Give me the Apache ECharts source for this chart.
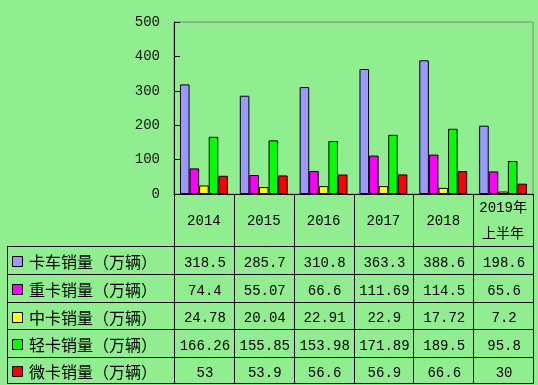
<!DOCTYPE html>
<html><head><meta charset="utf-8">
<script src="https://cdn.jsdelivr.net/npm/echarts@6/dist/echarts.min.js"></script>
<style>html,body{margin:0;padding:0;background:#90EE90;}#c{width:538px;height:385px;}</style>
</head><body><div id="c"></div>
<script>
const categories = ['2014', '2015', '2016', '2017', '2018', '2019年\n上半年'];
const seriesNames = ['卡车销量（万辆）', '重卡销量（万辆）', '中卡销量（万辆）', '轻卡销量（万辆）', '微卡销量（万辆）'];
const truckSales = [318.5, 285.7, 310.8, 363.3, 388.6, 198.6];
const heavySales = [74.4, 55.07, 66.6, 111.69, 114.5, 65.6];
const mediumSales = [24.78, 20.04, 22.91, 22.9, 17.72, 7.2];
const lightSales = [166.26, 155.85, 153.98, 171.89, 189.5, 95.8];
const microSales = [53, 53.9, 56.6, 56.9, 66.6, 30];
const yTicks = [0, 100, 200, 300, 400, 500];

const allSeries = [truckSales, heavySales, mediumSales, lightSales, microSales];
const colors = ['#9999FF', '#FF00FF', '#FFFF00', '#00FF00', '#FF0000'];

const W = 538, H = 385;
const gLeft = 174, gRight = 533, gTop = 22, gBottom = 194;
const tLeft = 7;
const rowLines = [246, 274, 302, 329, 357, 383];
const numFont = '"Liberation Mono", "DejaVu Sans Mono", monospace';
const cjkFont = '"Noto Sans CJK SC", sans-serif';

const chart = echarts.init(document.getElementById('c'), null, {renderer: 'canvas'});

const graphics = [];
const catW = (gRight - gLeft) / categories.length;
function hline(y, x1, x2) {
  graphics.push({type: 'line', silent: true, shape: {x1: x1, y1: y + 0.5, x2: x2, y2: y + 0.5}, style: {stroke: '#000', lineWidth: 1}});
}
function vline(x, y1, y2) {
  graphics.push({type: 'line', silent: true, shape: {x1: x + 0.5, y1: y1, x2: x + 0.5, y2: y2}, style: {stroke: '#000', lineWidth: 1}});
}
rowLines.forEach(y => hline(y, tLeft, gRight + 1));
vline(tLeft, rowLines[0], rowLines[rowLines.length - 1] + 1);
for (let i = 0; i <= categories.length; i++) {
  vline(Math.round(gLeft + i * catW), gBottom, rowLines[rowLines.length - 1] + 1);
}
seriesNames.forEach((name, r) => {
  const cy = (rowLines[r] + rowLines[r + 1]) / 2 + 1;
  graphics.push({type: 'rect', silent: true, shape: {x: 12.5, y: Math.round(cy - 5) + 0.5, width: 10, height: 10},
    style: {fill: colors[r], stroke: '#000', lineWidth: 1}});
  graphics.push({type: 'text', silent: true, x: 29, y: cy + 1,
    style: {text: name, font: '16px ' + cjkFont, fill: '#000', textVerticalAlign: 'middle', textAlign: 'left'}});
  allSeries[r].forEach((v, c) => {
    graphics.push({type: 'text', silent: true, x: gLeft + (c + 0.5) * catW + 1, y: cy + 2,
      style: {text: String(v), font: '14px ' + numFont, fill: '#000', textVerticalAlign: 'middle', textAlign: 'center'}});
  });
});

chart.setOption({
  backgroundColor: '#90EE90',
  animation: false,
  grid: {left: gLeft, right: W - gRight, top: gTop, bottom: H - gBottom, show: true, borderColor: '#808080', borderWidth: 1, backgroundColor: 'transparent'},
  xAxis: {
    type: 'category', data: categories,
    axisLine: {show: true, lineStyle: {color: '#000', width: 1}},
    axisTick: {show: false},
    axisLabel: {margin: 27, verticalAlign: 'middle', lineHeight: 26, color: '#000', fontSize: 14, fontFamily: 'Liberation Mono, DejaVu Sans Mono, Noto Sans CJK SC', interval: 0,
      rich: {}}
  },
  yAxis: {
    type: 'value', min: yTicks[0], max: yTicks[yTicks.length - 1], interval: 100,
    axisLine: {show: true, lineStyle: {color: '#000', width: 1}},
    axisTick: {show: true, inside: true, length: 6, lineStyle: {color: '#000'}},
    splitLine: {show: false},
    axisLabel: {margin: 14, color: '#111', fontSize: 14, fontFamily: numFont}
  },
  series: allSeries.map((d, i) => ({
    type: 'bar', name: seriesNames[i], data: d, barGap: '0%', barCategoryGap: '20%',
    itemStyle: {color: colors[i], borderColor: '#000', borderWidth: 1}
  })),
  graphic: graphics
});
</script></body></html>
